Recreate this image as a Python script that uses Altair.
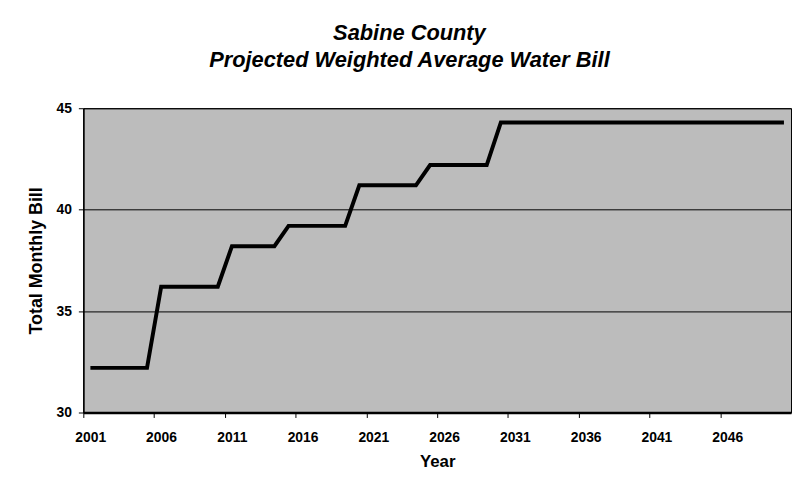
import altair as alt
import pandas as pd

years = list(range(2001, 2051))
bill = [
    32.2, 32.2, 32.2, 32.2, 32.2,
    36.2, 36.2, 36.2, 36.2, 36.2,
    38.2, 38.2, 38.2, 38.2,
    39.2, 39.2, 39.2, 39.2, 39.2,
    41.2, 41.2, 41.2, 41.2, 41.2,
    42.2, 42.2, 42.2, 42.2, 42.2,
    44.3, 44.3, 44.3, 44.3, 44.3, 44.3, 44.3, 44.3, 44.3, 44.3,
    44.3, 44.3, 44.3, 44.3, 44.3, 44.3, 44.3, 44.3, 44.3, 44.3, 44.3,
]
tick_positions = [2000.5, 2005.5, 2010.5, 2015.5, 2020.5, 2025.5, 2030.5, 2035.5, 2040.5, 2045.5]
y_ticks = [30, 35, 40, 45]

df = pd.DataFrame({"Year": years, "Bill": bill})

FONT = "Liberation Sans"

line = alt.Chart(df).mark_line(color="black", strokeWidth=4).encode(
    x=alt.X(
        "Year:Q",
        scale=alt.Scale(domain=[2000.5, 2050.5], nice=False, zero=False),
        axis=alt.Axis(
            values=tick_positions,
            labelExpr="format(datum.value + 0.5, 'd')",
            labelOffset=7,
            labelFlush=False,
            labelOverlap=False,
            grid=False,
            tickSize=5,
            tickColor="black",
            domainColor="black",
            domainWidth=2.5,
            labelFont=FONT,
            labelFontSize=14,
            labelFontWeight="bold",
            labelColor="black",
            labelPadding=13,
            title="Year",
            titleFont=FONT,
            titleFontSize=17,
            titleFontWeight="bold",
            titleColor="black",
            titlePadding=9,
        ),
    ),
    y=alt.Y(
        "Bill:Q",
        scale=alt.Scale(domain=[30, 45], nice=False, zero=False),
        axis=alt.Axis(
            values=y_ticks,
            grid=True,
            gridColor="black",
            gridWidth=1,
            gridOpacity=1,
            tickSize=5,
            tickColor="black",
            domainColor="black",
            domainWidth=1.5,
            labelFont=FONT,
            labelFontSize=14,
            labelFontWeight="bold",
            labelColor="black",
            labelPadding=7,
            title="Total Monthly Bill",
            titleFont=FONT,
            titleFontSize=18,
            titleFontWeight="bold",
            titleColor="black",
            titlePadding=11,
        ),
    ),
)

chart = line.properties(
    width=714,
    height=307,
    autosize=alt.AutoSizeParams(type="none"),
    padding={"left": 76, "top": 99, "right": 2, "bottom": 70},
    title=alt.Title(
        text=["Sabine County", "Projected Weighted Average Water Bill"],
        font=FONT,
        fontSize=22,
        fontStyle="italic",
        fontWeight="bold",
        color="black",
        lineHeight=27,
        anchor="middle",
        dx=-28,
        offset=30,
    ),
).configure(
    background="white",
).configure_view(
    fill="#bcbcbc",
    stroke="black",
    strokeWidth=1,
)

chart.save("out.html", embed_options={"renderer": "svg", "actions": False})
